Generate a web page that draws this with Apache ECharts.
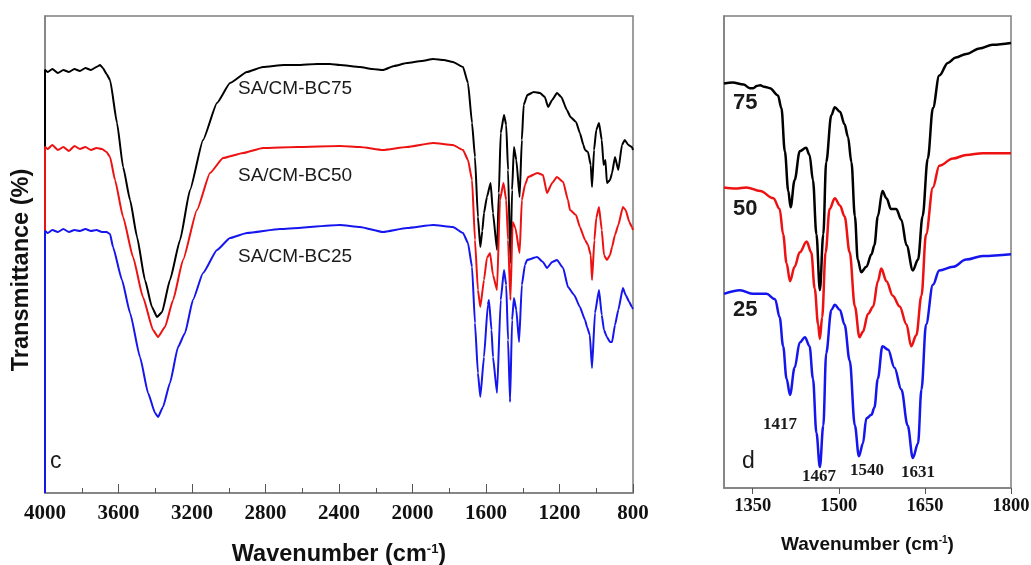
<!DOCTYPE html>
<html>
<head>
<meta charset="utf-8">
<title>FTIR spectra SA/CM-BC</title>
<script src="https://cdn.jsdelivr.net/npm/echarts@6/dist/echarts.min.js"></script>
<style>
    html, body { margin: 0; padding: 0; background: #fff; }
    #ftir-chart { width: 1031px; height: 565px; }
</style>
</head>
<body>
<div id="ftir-chart"></div>
<script>
// Full range spectra (panel c): [wavenumber, transmittance a.u.]
const fullBC75 = [
    [4000, 0], [4000, 423], [3985, 421], [3960, 424], [3930, 420], [3900, 423], [3870, 421], [3840, 424],
    [3810, 422], [3780, 425], [3750, 423], [3720, 426], [3700, 428], [3685, 425], [3665, 419], [3646, 413],
    [3608, 370], [3575, 326], [3537, 293], [3499, 256], [3456, 213], [3418, 186], [3390, 176], [3363, 181],
    [3320, 213], [3265, 253], [3211, 303], [3140, 353], [3064, 390], [2993, 410], [2901, 421], [2814, 426],
    [2700, 428], [2629, 428], [2520, 429], [2449, 429], [2395, 428], [2286, 426], [2220, 424], [2161, 423],
    [2100, 427], [2030, 430], [1950, 432], [1888, 434], [1830, 433], [1780, 431], [1725, 426], [1698, 410],
    [1676, 370], [1660, 336], [1644, 276], [1631, 246], [1620, 262], [1611, 280], [1595, 296], [1575, 310],
    [1562, 280], [1540, 243], [1530, 300], [1520, 360], [1502, 378], [1490, 368], [1480, 323], [1467, 230],
    [1458, 303], [1448, 346], [1435, 333], [1417, 296], [1405, 353], [1395, 388], [1375, 398], [1340, 401],
    [1306, 400], [1280, 396], [1262, 386], [1240, 393], [1214, 400], [1190, 396], [1160, 383], [1140, 376],
    [1110, 371], [1089, 360], [1070, 348], [1061, 343], [1045, 341], [1030, 328], [1023, 306], [1012, 343],
    [1000, 363], [985, 370], [970, 353], [960, 328], [950, 333], [942, 310], [925, 313], [914, 320],
    [898, 336], [880, 323], [860, 348], [845, 353], [825, 348], [806, 346], [800, 343]
];

const fullBC50 = [
    [4000, 0], [4000, 346], [3985, 344], [3960, 348], [3930, 343], [3900, 346], [3870, 342], [3840, 347],
    [3810, 344], [3780, 346], [3750, 343], [3720, 345], [3690, 344], [3665, 341], [3646, 336], [3619, 313],
    [3575, 276], [3521, 236], [3467, 196], [3412, 163], [3385, 156], [3347, 166], [3303, 193], [3249, 233],
    [3173, 283], [3102, 320], [3031, 335], [2922, 340], [2814, 345], [2629, 346], [2395, 347], [2286, 346],
    [2161, 343], [2030, 346], [1888, 350], [1780, 348], [1725, 343], [1698, 333], [1676, 313], [1660, 253],
    [1644, 203], [1631, 186], [1611, 213], [1595, 235], [1578, 240], [1562, 218], [1540, 203], [1524, 293],
    [1505, 310], [1490, 293], [1480, 253], [1467, 193], [1455, 271], [1440, 265], [1417, 240], [1405, 293],
    [1388, 308], [1371, 316], [1320, 320], [1290, 318], [1268, 300], [1240, 310], [1214, 316], [1180, 311],
    [1154, 293], [1143, 283], [1110, 278], [1089, 266], [1061, 253], [1045, 248], [1030, 238], [1023, 213],
    [1010, 253], [1000, 275], [985, 286], [970, 263], [958, 238], [942, 233], [925, 238], [914, 246],
    [898, 258], [880, 268], [855, 286], [840, 283], [820, 271], [806, 266], [800, 263]
];

const fullBC25 = [
    [4000, 0], [4000, 262], [3985, 260], [3960, 263], [3930, 261], [3900, 264], [3870, 261], [3840, 263],
    [3810, 262], [3780, 264], [3750, 262], [3720, 263], [3690, 261], [3665, 261], [3646, 259], [3630, 246],
    [3581, 213], [3537, 180], [3483, 136], [3439, 100], [3401, 80], [3385, 76], [3358, 86], [3320, 110],
    [3276, 146], [3238, 160], [3195, 193], [3140, 220], [3064, 243], [2993, 255], [2901, 260], [2721, 264],
    [2395, 268], [2286, 266], [2161, 261], [2030, 265], [1888, 268], [1780, 266], [1725, 260], [1698, 250],
    [1676, 226], [1660, 170], [1644, 120], [1631, 96], [1611, 136], [1590, 188], [1584, 193], [1570, 163],
    [1562, 136], [1540, 100], [1520, 193], [1502, 223], [1490, 208], [1480, 153], [1469, 91], [1458, 173],
    [1448, 195], [1435, 183], [1420, 151], [1405, 208], [1388, 228], [1377, 233], [1322, 236], [1290, 231],
    [1268, 225], [1240, 231], [1214, 233], [1180, 225], [1154, 206], [1120, 198], [1089, 186], [1061, 173],
    [1050, 166], [1035, 158], [1023, 125], [1007, 180], [985, 203], [970, 178], [958, 163], [942, 156],
    [925, 151], [914, 151], [898, 168], [880, 183], [855, 205], [840, 198], [820, 191], [806, 186], [800, 184]
];

// Zoomed spectra 1300-1800 (panel d)
const zoomBC75 = [
    [1300, 1121], [1315, 1124], [1334, 1118], [1345, 1108], [1351, 1108], [1357, 1114], [1363, 1116],
    [1370, 1112], [1380, 1108], [1394, 1088], [1400, 1053], [1406, 933], [1412, 823], [1416, 778],
    [1423, 853], [1432, 933], [1443, 943], [1449, 923], [1455, 853], [1461, 703], [1467, 548], [1473, 703],
    [1478, 903], [1487, 1033], [1493, 1055], [1502, 1043], [1510, 1008], [1516, 973], [1522, 903],
    [1528, 753], [1533, 633], [1539, 598], [1548, 613], [1557, 648], [1562, 673], [1568, 753], [1576, 823],
    [1583, 803], [1591, 773], [1600, 773], [1609, 743], [1618, 673], [1629, 603], [1638, 633], [1646, 753],
    [1655, 913], [1664, 1053], [1675, 1143], [1690, 1178], [1704, 1193], [1722, 1203], [1745, 1218],
    [1768, 1228], [1800, 1233]
];

const zoomBC50 = [
    [1300, 833], [1320, 830], [1339, 833], [1363, 823], [1386, 803], [1397, 773], [1403, 703], [1409, 623],
    [1415, 573], [1423, 613], [1432, 653], [1444, 683], [1452, 653], [1458, 553], [1464, 453], [1467, 413],
    [1471, 473], [1477, 653], [1484, 773], [1493, 803], [1502, 783], [1510, 753], [1519, 653], [1528, 503],
    [1536, 418], [1542, 433], [1551, 483], [1560, 503], [1568, 573], [1574, 608], [1583, 573], [1594, 533],
    [1606, 503], [1618, 453], [1626, 393], [1635, 423], [1644, 533], [1652, 703], [1664, 833], [1675, 893],
    [1699, 913], [1722, 923], [1751, 928], [1800, 928]
];

const zoomBC25 = [
    [1300, 538], [1328, 548], [1351, 538], [1374, 538], [1389, 523], [1397, 473], [1403, 393], [1409, 303],
    [1415, 258], [1423, 333], [1432, 403], [1441, 418], [1449, 393], [1455, 303], [1461, 153], [1467, 58],
    [1473, 173], [1478, 373], [1487, 493], [1493, 508], [1502, 493], [1510, 453], [1519, 353], [1528, 173],
    [1535, 88], [1542, 123], [1548, 193], [1557, 203], [1562, 223], [1568, 303], [1576, 393], [1586, 383],
    [1597, 333], [1609, 273], [1620, 173], [1629, 83], [1638, 123], [1644, 273], [1652, 453], [1664, 563],
    [1675, 603], [1699, 613], [1722, 633], [1751, 643], [1800, 648]
];

const seriesNames = ['SA/CM-BC75', 'SA/CM-BC50', 'SA/CM-BC25'];
const seriesColors = ['#000000', '#ee1111', '#1515ee'];
const fullTicks = [4000, 3600, 3200, 2800, 2400, 2000, 1600, 1200, 800];
const zoomTicks = [1350, 1500, 1650, 1800];
const shortNames = ['75', '50', '25'];
const peakLabels = ['1417', '1467', '1540', '1631'];

document.addEventListener('DOMContentLoaded', function() {
    initFtirChart();
});

function axisTitle(size) {
    return {
        fontFamily: 'Liberation Sans, Arial, sans-serif',
        fontWeight: 'bold',
        fontSize: size,
        color: '#111',
        rich: {
            sup: {
                fontFamily: 'Liberation Sans, Arial, sans-serif',
                fontWeight: 'bold',
                fontSize: Math.round(size * 0.55),
                verticalAlign: 'top',
                color: '#111'
            }
        }
    };
}

function lineSeries(name, data, color, axisIdx, width, smooth) {
    return {
        name: name,
        type: 'line',
        xAxisIndex: axisIdx,
        yAxisIndex: axisIdx,
        data: data,
        showSymbol: false,
        smooth: smooth,
        smoothMonotone: 'x',
        lineStyle: { color: color, width: width },
        itemStyle: { color: color },
        animation: false
    };
}

function initFtirChart() {
    const chart = echarts.init(document.getElementById('ftir-chart'));
    const frame = '#7f7f7f';
    const tickFont = {
        fontFamily: 'Liberation Serif, Times New Roman, serif',
        fontWeight: 'bold',
        color: '#111',
        formatter: v => String(v)
    };

    const option = {
        backgroundColor: '#ffffff',
        grid: [
            { left: 45, right: 398, top: 16, bottom: 72, outerBoundsMode: 'none',
                show: true, borderColor: frame, borderWidth: 1.5 },
            { left: 724, right: 20, top: 16, bottom: 77, outerBoundsMode: 'none',
                show: true, borderColor: frame, borderWidth: 1.5 }
        ],
        xAxis: [
            {
                type: 'value',
                gridIndex: 0,
                inverse: true,
                min: 800,
                max: 4000,
                interval: 400,
                name: 'Wavenumber (cm{sup|-1})',
                nameLocation: 'middle',
                nameGap: 50,
                nameTextStyle: axisTitle(23.5),
                axisLine: { lineStyle: { color: frame, width: 1.5 } },
                axisTick: { inside: true, length: 9, lineStyle: { color: '#555' } },
                minorTick: { show: true, splitNumber: 2, length: 5, lineStyle: { color: '#555' } },
                axisLabel: Object.assign({ fontSize: 21, margin: 10, customValues: fullTicks }, tickFont),
                splitLine: { show: false }
            },
            {
                type: 'value',
                gridIndex: 1,
                min: 1300,
                max: 1800,
                name: 'Wavenumber (cm{sup|-1})',
                nameLocation: 'middle',
                nameGap: 47,
                nameTextStyle: axisTitle(19),
                axisLine: { lineStyle: { color: frame, width: 1.5 } },
                axisTick: { inside: false, length: 6, customValues: zoomTicks, lineStyle: { color: '#555' } },
                axisLabel: Object.assign({ fontSize: 18.5, margin: 9, customValues: zoomTicks }, tickFont),
                splitLine: { show: false }
            }
        ],
        yAxis: [
            {
                type: 'value',
                gridIndex: 0,
                min: 0,
                max: 477,
                axisLine: { show: true, lineStyle: { color: frame, width: 1.5 } },
                axisTick: { show: false },
                axisLabel: { show: false },
                splitLine: { show: false }
            },
            {
                type: 'value',
                gridIndex: 1,
                min: 0,
                max: 1308,
                axisLine: { show: true, lineStyle: { color: frame, width: 1.5 } },
                axisTick: { show: false },
                axisLabel: { show: false },
                splitLine: { show: false }
            }
        ],
        series: [
            lineSeries(seriesNames[0], fullBC75, seriesColors[0], 0, 2, 0.15),
            lineSeries(seriesNames[1], fullBC50, seriesColors[1], 0, 2, 0.15),
            lineSeries(seriesNames[2], fullBC25, seriesColors[2], 0, 2, 0.15),
            lineSeries(seriesNames[0], zoomBC75, seriesColors[0], 1, 2.5, 0.35),
            lineSeries(seriesNames[1], zoomBC50, seriesColors[1], 1, 2.5, 0.35),
            lineSeries(seriesNames[2], zoomBC25, seriesColors[2], 1, 2.5, 0.35)
        ],
        graphic: buildAnnotations()
    };

    chart.setOption(option);

    window.addEventListener('resize', () => {
        chart.resize();
    });
}

// Y title, sample names, panel letters and peak positions
function buildAnnotations() {
    const sans = 'Liberation Sans, Arial, sans-serif';
    const serif = 'Liberation Serif, Times New Roman, serif';
    const items = [];

    items.push({
        type: 'text', x: 22, y: 270, rotation: Math.PI / 2,
        style: { text: 'Transmittance (%)', font: 'bold 23.5px ' + sans, fill: '#111',
            align: 'center', verticalAlign: 'middle' }
    });

    const nameY = [90, 177, 258];
    seriesNames.forEach((txt, i) => {
        items.push({
            type: 'text', left: 238, top: nameY[i] - 11,
            style: { text: txt, font: '19px ' + sans, fill: '#1a1a1a' }
        });
    });

    const shortY = [104, 210, 311];
    shortNames.forEach((txt, i) => {
        items.push({
            type: 'text', left: 733, top: shortY[i] - 12,
            style: { text: txt, font: 'bold 22px ' + sans, fill: '#1a1a1a' }
        });
    });

    const peakPos = [[780, 425], [819, 477], [867, 471], [918, 473]];
    peakLabels.forEach((txt, i) => {
        items.push({
            type: 'text', x: peakPos[i][0], y: peakPos[i][1],
            style: { text: txt, font: 'bold 17px ' + serif, fill: '#1a1a1a',
                align: 'center', verticalAlign: 'middle' }
        });
    });

    items.push({
        type: 'text', left: 50, top: 450,
        style: { text: 'c', font: '23px ' + sans, fill: '#1a1a1a' }
    });
    items.push({
        type: 'text', left: 742, top: 450,
        style: { text: 'd', font: '23px ' + sans, fill: '#1a1a1a' }
    });
    return items;
}
</script>
</body>
</html>
